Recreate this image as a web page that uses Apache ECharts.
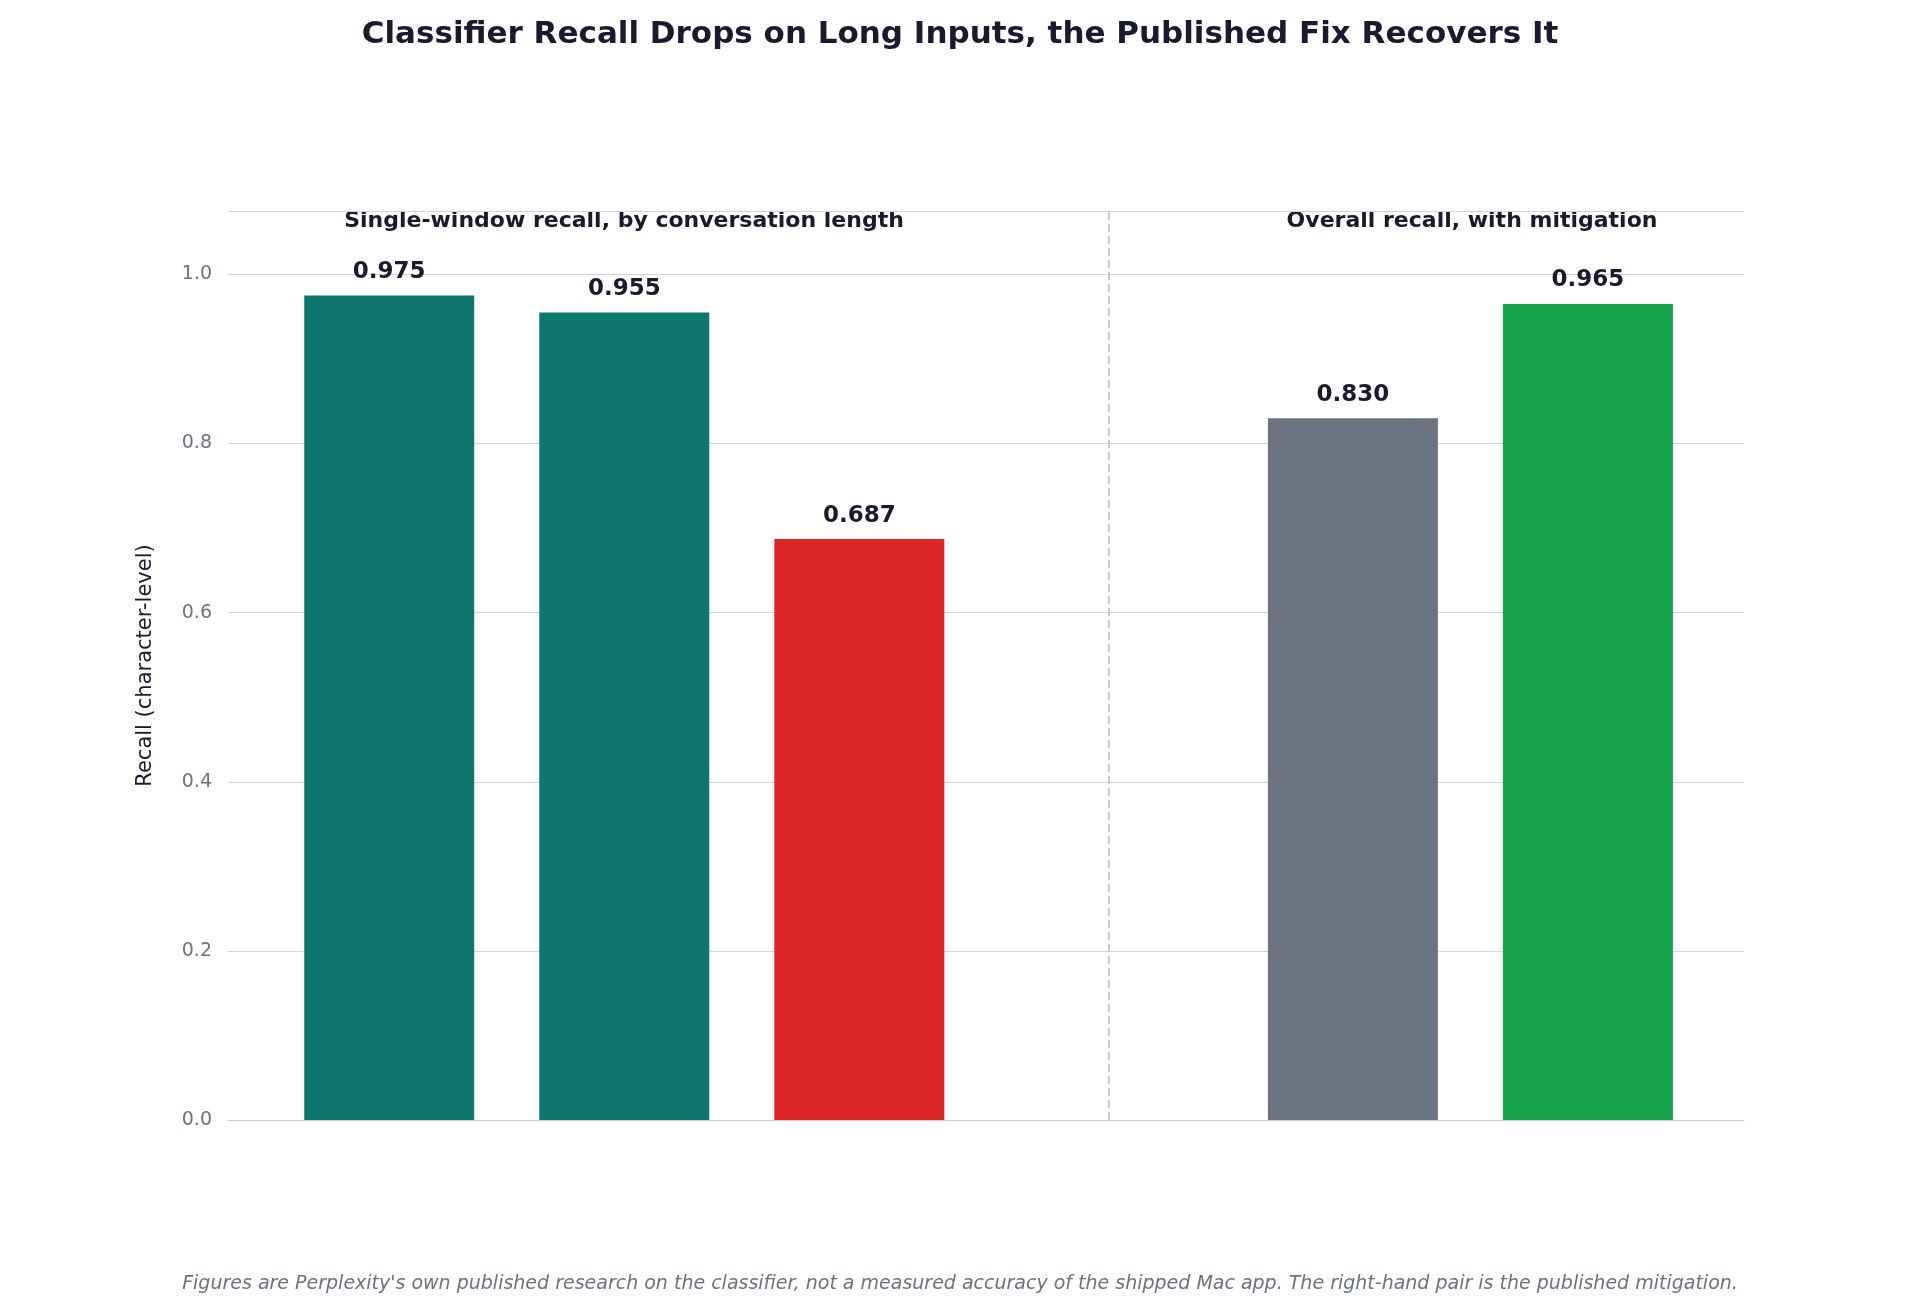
<!DOCTYPE html>
<html><head><meta charset="utf-8">
<script src="https://cdn.jsdelivr.net/npm/echarts@6/dist/echarts.min.js"></script>
<style>html,body{margin:0;padding:0;background:#fff}#c{width:1920px;height:1310px}</style>
</head><body><div id="c"></div>
<script>
const categories = ['Under\n1,000 chars','1,000 to\n10,000 chars','10,000 chars\nor more','Without\nsliding window','With sliding window\n(50% overlap)'];
const positions = [0, 1, 2, 4.1, 5.1];
const values = [0.975, 0.955, 0.687, 0.830, 0.965];
const colors = ['#0f766e','#0f766e','#dc2626','#6b7280','#16a34a'];
const yTicks = [0, 0.2, 0.4, 0.6, 0.8, 1.0];
const panelTitles = ['Single-window recall, by conversation length','Overall recall, with mitigation'];
const dividerAt = 3.06;
const F = 'DejaVu Sans';
const chart = echarts.init(document.getElementById('c'));
chart.setOption({
  backgroundColor:'#fff',
  animation:false,
  textStyle:{fontFamily:F},
  title:{text:'Classifier Recall Drops on Long Inputs, the Published Fix Recovers It',left:'center',top:14,
    textStyle:{fontFamily:F,fontSize:31,fontWeight:'bold',color:'#1a1a2e'}},
  graphic:[
    {type:'text',x:624,y:221,style:{text:panelTitles[0],font:'bold 22px "DejaVu Sans"',fill:'#1a1a2e',textAlign:'center',textVerticalAlign:'middle'}},
    {type:'text',x:1472,y:221,style:{text:panelTitles[1],font:'bold 22px "DejaVu Sans"',fill:'#1a1a2e',textAlign:'center',textVerticalAlign:'middle'}},
    {type:'text',x:960,y:1284,style:{text:"Figures are Perplexity's own published research on the classifier, not a measured accuracy of the shipped Mac app. The right-hand pair is the published mitigation.",font:'italic 19px "DejaVu Sans"',fill:'#6b7280',textAlign:'center',textVerticalAlign:'middle'}}
  ],
  grid:{left:228,right:176,top:211,bottom:190},
  xAxis:{type:'value',min:-0.686,max:5.764,show:true,axisLine:{show:true,lineStyle:{color:'#cccccc'}},axisTick:{show:false},axisLabel:{show:false},splitLine:{show:false}},
  yAxis:{type:'value',min:0,max:1.075,interval:0.2,
    name:'Recall (character-level)',nameLocation:'middle',nameGap:72,nameRotate:90,
    nameTextStyle:{fontSize:21,color:'#1a1a2e',fontFamily:F},
    axisLine:{show:false},axisTick:{show:false},
    axisLabel:{fontSize:19,color:'#6b7280',margin:16,fontFamily:F,
      formatter:v=>yTicks.some(t=>Math.abs(t-v)<1e-6)?v.toFixed(1):''},
    splitLine:{lineStyle:{color:'#d1d5db',width:1.2}}},
  series:[
    {type:'bar',barWidth:170,
      data:positions.map((p,i)=>({value:[p,values[i]],itemStyle:{color:colors[i]}})),
      label:{show:true,position:'top',distance:12,formatter:p=>p.value[1].toFixed(3),fontSize:23,fontWeight:'bold',color:'#1a1a2e',fontFamily:F},
      markLine:{silent:true,symbol:'none',label:{show:false},lineStyle:{type:'dashed',color:'#cccccc',width:2},data:[{xAxis:dividerAt}]}
    },
    {type:'scatter',symbol:'none',symbolSize:0,
      data:positions.map((p,i)=>({value:[p,0],name:categories[i]})),
      label:{show:true,position:'bottom',distance:10,formatter:p=>p.name,fontSize:21,color:'#1a1a2e',lineHeight:27,align:'center',fontFamily:F}}
  ]
});
</script></body></html>
